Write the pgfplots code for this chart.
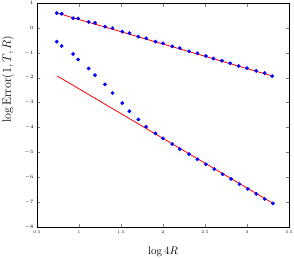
\documentclass[border=0pt]{standalone}
\usepackage{pgfplots}
\pgfplotsset{compat=1.18}
\begin{document}
\begin{tikzpicture}
\begin{axis}[
  scale only axis,
  width=252pt, height=224pt,
  xmin=0.5, xmax=3.5, ymin=-8, ymax=1,
  xtick={0.5,1,1.5,2,2.5,3,3.5},
  ytick={-8,-7,-6,-5,-4,-3,-2,-1,0,1},
  xticklabels={0.5,1,1.5,2,2.5,3,3.5},
  tick label style={font=\fontsize{4}{5}\selectfont},
  major tick length=3.5pt,
  tick align=inside,
  xtick pos=both, ytick pos=both,
  axis line style={line width=0.6pt},
  xlabel={$\log 4R$},
  ylabel={$\log \mathrm{Error}(1,T,R)$},
  xlabel style={font=\fontsize{11}{13}\selectfont, yshift=-7pt},
  ylabel style={font=\fontsize{11.5}{13}\selectfont, at={(ticklabel cs:0.66)}, yshift=4pt},
]
\addplot[only marks, mark=*, mark size=1.7pt, color=blue, mark options={draw=blue, fill=blue}] coordinates {
(0.735,0.595) (0.794,0.567) (0.93,0.39) (0.99,0.38) (1.115,0.24) (1.19,0.20)
(1.31,0.05) (1.40,-0.01) (1.515,-0.15) (1.60,-0.21) (1.706,-0.35) (1.80,-0.42)
(1.91,-0.55) (2.00,-0.62) (2.11,-0.74) (2.20,-0.81) (2.31,-0.94) (2.41,-1.02)
(2.51,-1.13) (2.60,-1.23) (2.70,-1.32) (2.80,-1.42) (2.90,-1.53) (3.00,-1.62)
(3.11,-1.73) (3.21,-1.81) (3.30,-1.94)
};
\addplot[only marks, mark=*, mark size=1.7pt, color=blue, mark options={draw=blue, fill=blue}] coordinates {
(0.735,-0.55) (0.794,-0.73) (0.93,-1.05) (0.99,-1.27) (1.115,-1.63) (1.19,-1.90)
(1.31,-2.27) (1.40,-2.62) (1.515,-3.02) (1.60,-3.35) (1.706,-3.68) (1.80,-3.97)
(1.91,-4.24) (2.00,-4.44) (2.11,-4.67) (2.20,-4.87) (2.31,-5.07) (2.41,-5.28)
(2.51,-5.48) (2.61,-5.67) (2.71,-5.88) (2.81,-6.07) (2.91,-6.28) (3.01,-6.47)
(3.11,-6.67) (3.21,-6.87) (3.31,-7.05)
};
\addplot[red, line width=0.8pt, no marks] coordinates {(0.735,0.60) (3.31,-1.94)};
\addplot[red, line width=0.8pt, no marks] coordinates {(0.74,-1.93) (3.31,-7.05)};
\coordinate (bl) at (rel axis cs:0,0);
\coordinate (tr) at (rel axis cs:1,1);
\end{axis}
\pgfresetboundingbox
\path ([xshift=-37pt,yshift=-30pt]bl) rectangle ([xshift=5pt,yshift=3pt]tr);
\end{tikzpicture}
\end{document}
